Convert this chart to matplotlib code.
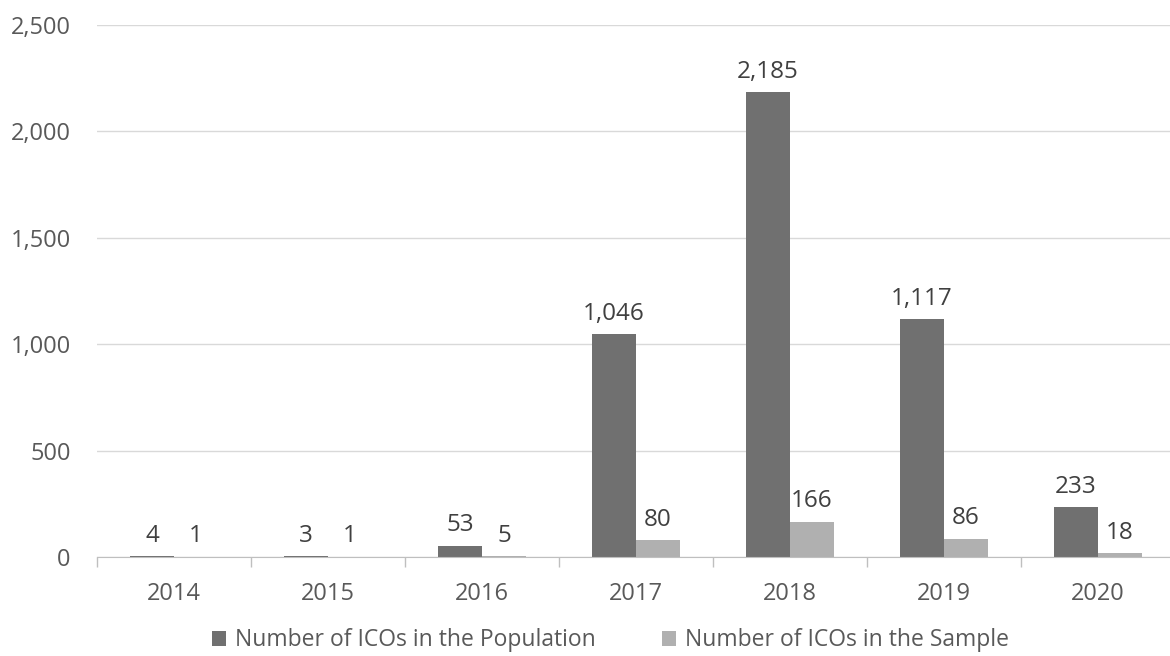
import numpy as np
import matplotlib
matplotlib.use('Agg')
import matplotlib.pyplot as plt

years = ['2014', '2015', '2016', '2017', '2018', '2019', '2020']
population = [4, 3, 53, 1046, 2185, 1117, 233]
sample = [1, 1, 5, 80, 166, 86, 18]

dark = '#707070'
light = '#b0b0b0'
text_col = '#595959'

plt.rcParams['font.family'] = ['Open Sans', 'DejaVu Sans']

fig = plt.figure(figsize=(11.7, 6.56), dpi=100)
ax = fig.add_axes([0.083, 0.151, 0.921, 0.811])

x = np.arange(len(years))
w = 0.286
b1 = ax.bar(x - w / 2, population, w, color=dark, label='Number of ICOs in the Population')
b2 = ax.bar(x + w / 2, sample, w, color=light, label='Number of ICOs in the Sample')

for bars in (b1, b2):
    for rect in bars:
        v = rect.get_height()
        ax.annotate(f'{int(v):,}', (rect.get_x() + rect.get_width() / 2, v),
                    xytext=(0, 6), textcoords='offset points', ha='center', va='bottom',
                    fontsize=17.5, color='#404040')

ax.set_xlim(-0.5, len(years) - 0.5)
ax.set_ylim(0, 2500)
ax.set_yticks(np.arange(0, 2501, 500))
ax.set_yticklabels([f'{v:,}' for v in range(0, 2501, 500)])
ax.yaxis.grid(True, color='#d9d9d9', linewidth=1)
ax.set_axisbelow(True)

ax.set_xticks(x)
ax.set_xticklabels(years)
ax.set_xticks(np.arange(-0.5, len(years)), minor=True)
ax.tick_params(axis='x', which='major', length=0, pad=18, labelsize=17, labelcolor=text_col)
ax.tick_params(axis='x', which='minor', length=7, color='#bfbfbf', width=1)
ax.tick_params(axis='y', length=0, pad=19, labelsize=17, labelcolor=text_col)

for s in ['top', 'right', 'left']:
    ax.spines[s].set_visible(False)
ax.spines['bottom'].set_color('#bfbfbf')

leg = fig.legend(loc='lower center', bbox_to_anchor=(0.522, -0.026), ncol=2, frameon=False,
                 fontsize=16.5, handlelength=0.6, handleheight=0.6, columnspacing=2.9,
                 handletextpad=0.4)
for t in leg.get_texts():
    t.set_color(text_col)

fig.savefig('out.png', dpi=100, facecolor='white')
